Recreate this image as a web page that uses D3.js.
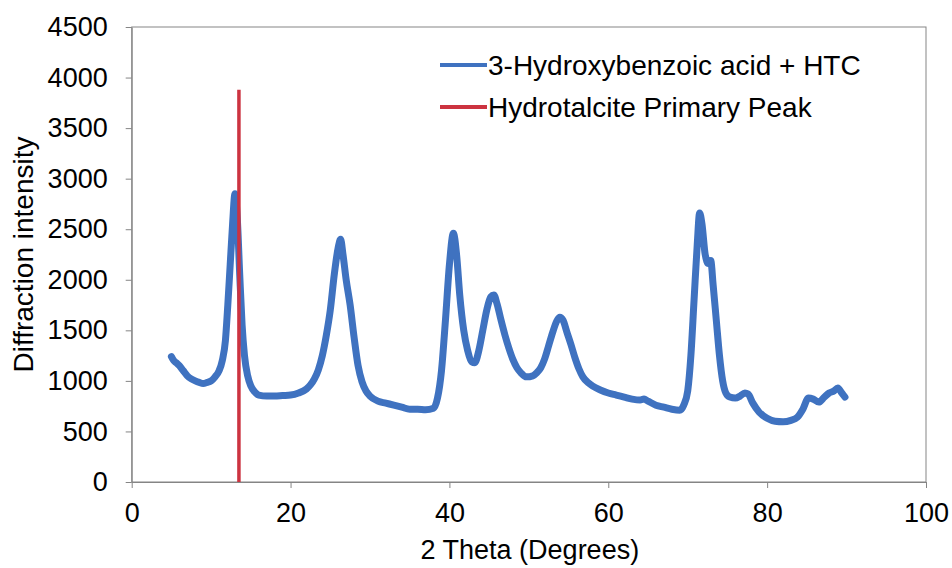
<!DOCTYPE html>
<html>
<head>
<meta charset="utf-8">
<script src="https://cdn.jsdelivr.net/npm/d3@7"></script>
<style>
  html, body { margin: 0; padding: 0; background: #fff; }
  svg { display: block; }
  text { font-family: "Liberation Sans", Arial, sans-serif; fill: #000; }
</style>
</head>
<body>
<svg id="chart" width="952" height="568"></svg>
<script>
// XRD pattern: 2θ (degrees) and diffraction intensity
const twoTheta = [
  5.0, 5.3, 5.6, 6.0, 6.5, 7.0, 7.5, 8.0, 8.5, 9.0, 9.5, 10.0, 10.5, 11.0, 11.4, 11.8,
  12.1, 12.4, 12.7, 13.0, 13.3, 13.6, 13.9, 14.2, 14.6, 15.0, 15.5, 16.0, 17.0, 18.0,
  19.0, 20.0, 21.0, 22.0, 22.5, 23.0, 23.5, 24.0, 24.5, 25.0, 25.5, 26.0, 26.3, 26.6,
  27.0, 27.5, 28.0, 28.5, 29.0, 29.5, 30.0, 31.0, 32.0, 33.0, 34.0, 35.0, 36.0, 37.0,
  38.0, 38.5, 39.0, 39.5, 40.0, 40.5, 40.9, 41.3, 41.8, 42.3, 42.8, 43.2, 43.7, 44.2,
  44.7, 45.2, 45.6, 46.0, 46.5, 47.0, 47.5, 48.0, 48.5, 49.0, 49.7, 50.5, 51.0, 51.5,
  52.0, 52.5, 53.0, 53.5, 53.9, 54.3, 54.8, 55.3, 55.8, 56.3, 56.8, 57.5, 58.0, 59.0,
  60.0, 61.0, 62.0, 63.0, 64.0, 64.5, 65.0, 66.0, 67.0, 68.0, 69.0, 69.5, 70.0, 70.4,
  70.8, 71.2, 71.5, 71.8, 72.2, 72.6, 72.9, 73.2, 73.6, 74.0, 74.4, 74.8, 75.3, 76.0,
  76.6, 77.2, 77.6, 78.2, 79.0, 80.0, 81.0, 82.0, 83.0, 83.8, 84.5, 85.2, 85.8, 86.5,
  87.2, 87.8, 88.4, 88.9, 89.4, 89.8
];
const intensity = [
  1240, 1200, 1180, 1150, 1100, 1050, 1020, 1000, 985, 975, 985, 1000, 1040, 1100, 1200, 1400,
  1750, 2150, 2550, 2850, 2600, 2050, 1550, 1250, 1050, 950, 890, 860, 850, 850,
  855, 860, 880, 920, 960, 1020, 1110, 1250, 1450, 1700, 2050, 2320, 2400, 2250,
  2000, 1750, 1430, 1150, 990, 900, 850, 800, 780, 760, 740, 720, 720, 715,
  730, 830, 1100, 1600, 2150, 2460, 2250, 1850, 1500, 1300, 1190, 1180, 1300, 1500,
  1700, 1830, 1850, 1760, 1600, 1450, 1320, 1210, 1130, 1080, 1040, 1050, 1080, 1130,
  1220, 1350, 1480, 1590, 1630, 1600, 1480, 1360, 1230, 1120, 1040, 980, 950, 910,
  880, 860, 840, 820, 810, 820, 800, 760, 740, 720, 710, 760, 900, 1250,
  1800, 2350, 2660, 2550, 2250, 2160, 2190, 1950, 1600, 1250, 1000, 880, 840, 830,
  850, 880, 870, 780, 690, 630, 600, 595, 610, 640, 720, 830, 820, 790,
  840, 880, 900, 930, 880, 840
];

// Reference line for the hydrotalcite primary reflection
const primaryPeakTheta = 13.5;
const primaryPeakHeight = 3880;

const xTicks = [0, 20, 40, 60, 80, 100];
const yTicks = [0, 500, 1000, 1500, 2000, 2500, 3000, 3500, 4000, 4500];
const seriesNames = ["3-Hydroxybenzoic acid + HTC", "Hydrotalcite Primary Peak"];
const seriesColors = ["#3f72c0", "#cc3340"];

const svg = d3.select("#chart");
const plotLeft = 131.7, plotRight = 926, plotTop = 27, plotBottom = 482;
const fontSize = 27;
const titleSize = 28;

const x = d3.scaleLinear().domain([0, 100]).range([plotLeft, plotRight]);
const y = d3.scaleLinear().domain([0, 4500]).range([plotBottom, plotTop]);

// Plot frame
svg.append("rect")
  .attr("x", plotLeft).attr("y", plotTop)
  .attr("width", plotRight - plotLeft).attr("height", plotBottom - plotTop)
  .attr("fill", "none").attr("stroke", "#858585").attr("stroke-width", 1);

// Axes
const yAxis = svg.append("g")
  .attr("transform", `translate(${plotLeft},0)`)
  .call(d3.axisLeft(y).tickValues(yTicks).tickFormat(d3.format("d"))
    .tickSize(6).tickSizeOuter(0).tickPadding(18));
const xAxis = svg.append("g")
  .attr("transform", `translate(0,${plotBottom})`)
  .call(d3.axisBottom(x).tickValues(xTicks).tickFormat(d3.format("d"))
    .tickSize(6).tickSizeOuter(0).tickPadding(15));
[xAxis, yAxis].forEach(g => {
  g.select(".domain").attr("stroke", "#858585");
  g.selectAll(".tick line").attr("stroke", "#858585");
  g.selectAll(".tick text")
    .style("font-family", '"Liberation Sans", Arial, sans-serif')
    .style("font-size", fontSize + "px")
    .attr("fill", "#000");
});

// Axis titles
svg.append("text")
  .attr("x", (plotLeft + plotRight) / 2 + 1).attr("y", 559)
  .attr("text-anchor", "middle")
  .style("font-size", fontSize + "px")
  .text("2 Theta (Degrees)");
svg.append("text")
  .attr("transform", `translate(33,${(plotTop + plotBottom) / 2}) rotate(-90)`)
  .attr("text-anchor", "middle")
  .style("font-size", titleSize + "px")
  .text("Diffraction intensity");

// Diffraction pattern
const points = twoTheta.map((t, i) => [t, intensity[i]]);
const line = d3.line().x(d => x(d[0])).y(d => y(d[1])).curve(d3.curveMonotoneX);
svg.append("path")
  .datum(points)
  .attr("d", line)
  .attr("fill", "none")
  .attr("stroke", seriesColors[0])
  .attr("stroke-width", 7)
  .attr("stroke-linejoin", "round")
  .attr("stroke-linecap", "round");

// Primary peak marker
svg.append("line")
  .attr("x1", x(primaryPeakTheta)).attr("x2", x(primaryPeakTheta))
  .attr("y1", y(0)).attr("y2", y(primaryPeakHeight))
  .attr("stroke", seriesColors[1])
  .attr("stroke-width", 3.5);

// Legend
const legend = svg.append("g");
seriesNames.forEach((name, i) => {
  const row = legend.append("g").attr("transform", `translate(440,${65 + i * 42})`);
  row.append("line")
    .attr("x1", 0).attr("x2", 47).attr("y1", 0).attr("y2", 0)
    .attr("stroke", seriesColors[i]).attr("stroke-width", 4);
  row.append("text")
    .attr("x", 48).attr("y", 10)
    .style("font-size", titleSize + "px")
    .text(name);
});
</script>
</body>
</html>
